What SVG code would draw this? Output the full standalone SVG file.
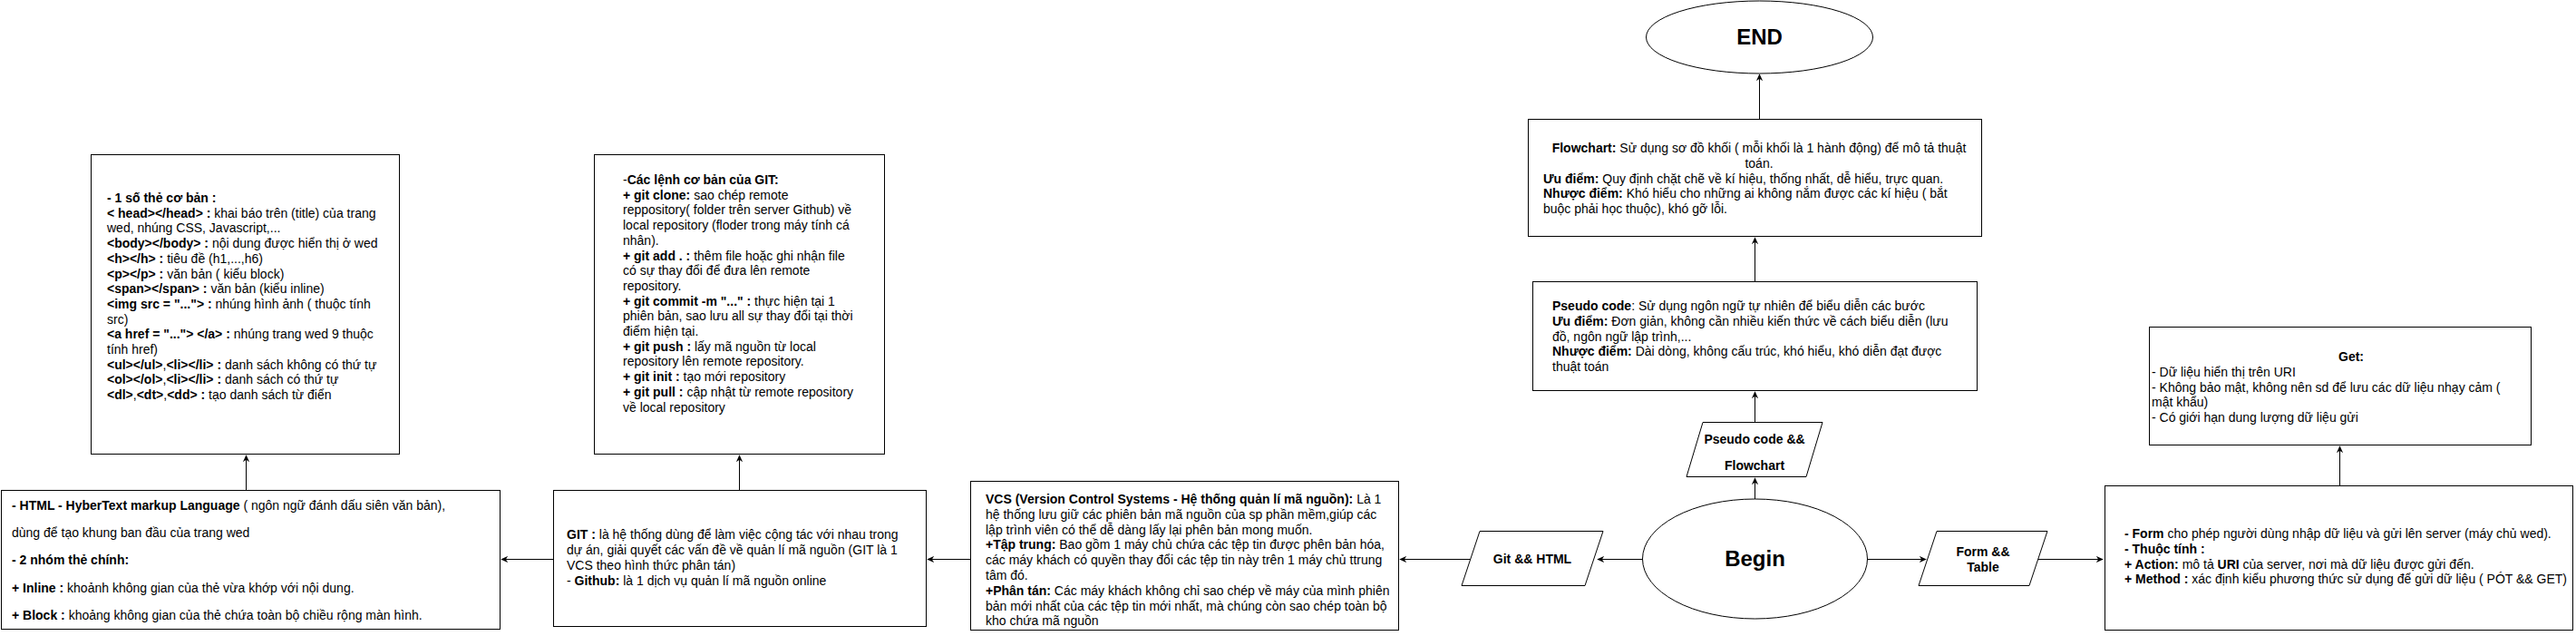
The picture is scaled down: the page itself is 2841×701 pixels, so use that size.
<svg xmlns="http://www.w3.org/2000/svg" width="2841" height="701" viewBox="0 0 2841 701">
<style>
.t{font-family:"Liberation Sans",Arial,sans-serif;font-size:14px;fill:#000}
.b{font-weight:bold}
.c{text-anchor:middle}
.big{font-family:"Liberation Sans",Arial,sans-serif;font-size:24px;font-weight:bold;text-anchor:middle;fill:#000}
.box{fill:#fff;stroke:#000;stroke-width:1}
.edge{stroke:#000;stroke-width:1;fill:none;marker-end:url(#arr)}
</style>
<defs>
<marker id="arr" viewBox="0 0 10 10" refX="9" refY="5" markerWidth="8" markerHeight="8" markerUnits="userSpaceOnUse" orient="auto">
<path d="M0,0.5 L10,5 L0,9.5 L3,5 z" fill="#000"/>
</marker>
</defs>
<rect x="0" y="0" width="2841" height="701" fill="#fff"/>

<g id="connectors">
<path class="edge" d="M1811,616.5 H1762"/>
<path class="edge" d="M1622,616.5 H1544"/>
<path class="edge" d="M1070,616.5 H1023"/>
<path class="edge" d="M625,616.5 H553"/>
<path class="edge" d="M815.5,540 V502"/>
<path class="edge" d="M271.5,540 V502"/>
<path class="edge" d="M1935.5,550 V527"/>
<path class="edge" d="M1935.5,478 V432"/>
<path class="edge" d="M1935.5,310 V262"/>
<path class="edge" d="M1940.5,140 V82"/>
<path class="edge" d="M2060,616.5 H2124"/>
<path class="edge" d="M2248,616.5 H2319"/>
<path class="edge" d="M2580.5,535 V492"/>
</g>

<g id="html-tags">
<rect class="box" x="100.5" y="170.5" width="340" height="330"/>
<text class="t" x="118" y="223"><tspan class="b">- 1 số thẻ cơ bản :</tspan></text>
<text class="t" x="118" y="239.7"><tspan class="b">&lt; head&gt;&lt;/head&gt; :</tspan> khai báo trên (title) của trang</text>
<text class="t" x="118" y="256.4">wed, nhúng CSS, Javascript,...</text>
<text class="t" x="118" y="273.1"><tspan class="b">&lt;body&gt;&lt;/body&gt; :</tspan> nội dung được hiển thị ở wed</text>
<text class="t" x="118" y="289.8"><tspan class="b">&lt;h&gt;&lt;/h&gt; :</tspan> tiêu đề (h1,...,h6)</text>
<text class="t" x="118" y="306.5"><tspan class="b">&lt;p&gt;&lt;/p&gt; :</tspan> văn bản ( kiểu block)</text>
<text class="t" x="118" y="323.2"><tspan class="b">&lt;span&gt;&lt;/span&gt; :</tspan> văn bản (kiểu inline)</text>
<text class="t" x="118" y="339.9"><tspan class="b">&lt;img src = "..."&gt; :</tspan> nhúng hình ảnh ( thuộc tính</text>
<text class="t" x="118" y="356.6">src)</text>
<text class="t" x="118" y="373.3"><tspan class="b">&lt;a href = "..."&gt; &lt;/a&gt; :</tspan> nhúng trang wed 9 thuộc</text>
<text class="t" x="118" y="390">tính href)</text>
<text class="t" x="118" y="406.7"><tspan class="b">&lt;ul&gt;&lt;/ul&gt;</tspan>,<tspan class="b">&lt;li&gt;&lt;/li&gt; :</tspan> danh sách không có thứ tự</text>
<text class="t" x="118" y="423.4"><tspan class="b">&lt;ol&gt;&lt;/ol&gt;</tspan>,<tspan class="b">&lt;li&gt;&lt;/li&gt; :</tspan> danh sách có thứ tự</text>
<text class="t" x="118" y="440.1"><tspan class="b">&lt;dl&gt;</tspan>,<tspan class="b">&lt;dt&gt;</tspan>,<tspan class="b">&lt;dd&gt; :</tspan> tạo danh sách từ điển</text>
</g>

<g id="git-commands">
<rect class="box" x="655.5" y="170.5" width="320" height="330"/>
<text class="t" x="687" y="203">-<tspan class="b">Các lệnh cơ bản của GIT:</tspan></text>
<text class="t" x="687" y="219.7"><tspan class="b">+ git clone:</tspan> sao chép remote</text>
<text class="t" x="687" y="236.4">reppository( folder trên server Github) về</text>
<text class="t" x="687" y="253.1">local repository (floder trong máy tính cá</text>
<text class="t" x="687" y="269.8">nhân).</text>
<text class="t" x="687" y="286.5"><tspan class="b">+ git add . :</tspan> thêm file hoặc ghi nhận file</text>
<text class="t" x="687" y="303.2">có sự thay đổi để đưa lên remote</text>
<text class="t" x="687" y="319.9">repository.</text>
<text class="t" x="687" y="336.6"><tspan class="b">+ git commit -m "..." :</tspan> thực hiện tại 1</text>
<text class="t" x="687" y="353.3">phiên bản, sao lưu all sự thay đổi tại thời</text>
<text class="t" x="687" y="370">điểm hiện tại.</text>
<text class="t" x="687" y="386.7"><tspan class="b">+ git push :</tspan> lấy mã nguồn từ local</text>
<text class="t" x="687" y="403.4">repository lên remote repository.</text>
<text class="t" x="687" y="420.1"><tspan class="b">+ git init :</tspan> tạo mới repository</text>
<text class="t" x="687" y="436.8"><tspan class="b">+ git pull :</tspan> cập nhật từ remote repository</text>
<text class="t" x="687" y="453.5">về local repository</text>
</g>

<g id="html-desc">
<rect class="box" x="1.5" y="540.5" width="550" height="153"/>
<text class="t" x="13" y="562"><tspan class="b">- HTML - HyberText markup Language</tspan> ( ngôn ngữ đánh dấu siên văn bản),</text>
<text class="t" x="13" y="592.2">dùng để tạo khung ban đầu của trang wed</text>
<text class="t" x="13" y="622.4"><tspan class="b">- 2 nhóm thẻ chính:</tspan></text>
<text class="t" x="13" y="652.6"><tspan class="b">+ Inline :</tspan> khoảnh không gian của thẻ vừa khớp với nội dung.</text>
<text class="t" x="13" y="682.8"><tspan class="b">+ Block :</tspan> khoảng không gian của thẻ chứa toàn bộ chiều rộng màn hình.</text>
</g>

<g id="git">
<rect class="box" x="610.5" y="540.5" width="411" height="150"/>
<text class="t" x="625" y="594"><tspan class="b">GIT :</tspan> là hệ thống dùng để làm việc cộng tác với nhau trong</text>
<text class="t" x="625" y="611">dự án, giải quyết các vấn đề về quản lí mã nguồn (GIT là 1</text>
<text class="t" x="625" y="628">VCS theo hình thức phân tán)</text>
<text class="t" x="625" y="645">- <tspan class="b">Github:</tspan> là 1 dịch vụ quản lí mã nguồn online</text>
</g>

<g id="vcs">
<rect class="box" x="1070.5" y="530.5" width="472" height="164"/>
<text class="t" x="1087" y="555"><tspan class="b">VCS (Version Control Systems - Hệ thống quản lí mã nguồn):</tspan> Là 1</text>
<text class="t" x="1087" y="571.8">hệ thống lưu giữ các phiên bản mã nguồn của sp phần mềm,giúp các</text>
<text class="t" x="1087" y="588.6">lập trình viên có thể dễ dàng lấy lại phên bản mong muốn.</text>
<text class="t" x="1087" y="605.4"><tspan class="b">+Tập trung:</tspan> Bao gồm 1 máy chủ chứa các tệp tin được phên bản hóa,</text>
<text class="t" x="1087" y="622.2">các máy khách có quyền thay đổi các tệp tin này trên 1 máy chủ ttrung</text>
<text class="t" x="1087" y="639">tâm đó.</text>
<text class="t" x="1087" y="655.8"><tspan class="b">+Phân tán:</tspan> Các máy khách không chỉ sao chép về máy của mình phiên</text>
<text class="t" x="1087" y="672.6">bản mới nhất của các tệp tin mới nhất, mà chúng còn sao chép toàn bộ</text>
<text class="t" x="1087" y="689.4">kho chứa mã nguồn</text>
</g>

<g id="git-html">
<polygon class="box" points="1612,645.5 1632,585.5 1768,585.5 1748,645.5"/>
<text class="t b c" x="1690" y="621">Git &amp;&amp; HTML</text>
</g>

<g id="begin">
<ellipse class="box" cx="1935.5" cy="616" rx="124" ry="66"/>
<text class="big" x="1935.5" y="624">Begin</text>
</g>

<g id="pseudo-para">
<polygon class="box" points="1860,525.5 1878,465.5 2010,465.5 1992,525.5"/>
<text class="t b c" x="1935" y="489">Pseudo code &amp;&amp;</text>
<text class="t b c" x="1935" y="518">Flowchart</text>
</g>

<g id="pseudo">
<rect class="box" x="1690.5" y="310.5" width="490" height="120"/>
<text class="t" x="1712" y="342"><tspan class="b">Pseudo code</tspan>: Sử dụng ngôn ngữ tự nhiên để biểu diễn các bước</text>
<text class="t" x="1712" y="358.8"><tspan class="b">Ưu điểm:</tspan> Đơn giản, không cần nhiều kiến thức về cách biểu diễn (lưu</text>
<text class="t" x="1712" y="375.6">đồ, ngôn ngữ lập trình,...</text>
<text class="t" x="1712" y="392.4"><tspan class="b">Nhược điểm:</tspan> Dài dòng, không cấu trúc, khó hiểu, khó diễn đạt được</text>
<text class="t" x="1712" y="409.2">thuật toán</text>
</g>

<g id="flowchart">
<rect class="box" x="1685.5" y="131.5" width="500" height="129"/>
<text class="t c" x="1940" y="168"><tspan class="b">Flowchart:</tspan> Sử dụng sơ đồ khối ( mỗi khối là 1 hành động) để mô tả thuật</text>
<text class="t c" x="1940" y="184.8">toán.</text>
<text class="t" x="1702" y="201.6"><tspan class="b">Ưu điểm:</tspan> Quy định chặt chẽ về kí hiệu, thống nhất, dễ hiểu, trực quan.</text>
<text class="t" x="1702" y="218.4"><tspan class="b">Nhược điểm:</tspan> Khó hiểu cho những ai không nắm được các kí hiệu ( bắt</text>
<text class="t" x="1702" y="235.2">buộc phải học thuộc), khó gỡ lỗi.</text>
</g>

<g id="end">
<ellipse class="box" cx="1940.5" cy="41" rx="125" ry="40"/>
<text class="big" x="1940.5" y="49">END</text>
</g>

<g id="form-table">
<polygon class="box" points="2116,645.5 2136,585.5 2258,585.5 2238,645.5"/>
<text class="t b c" x="2187" y="613">Form &amp;&amp;</text>
<text class="t b c" x="2187" y="630">Table</text>
</g>

<g id="form">
<rect class="box" x="2321.5" y="535.5" width="516" height="159"/>
<text class="t" x="2343" y="593"><tspan class="b">- Form</tspan> cho phép người dùng nhập dữ liệu và gửi lên server (máy chủ wed).</text>
<text class="t" x="2343" y="609.8"><tspan class="b">- Thuộc tính :</tspan></text>
<text class="t" x="2343" y="626.6"><tspan class="b">+ Action:</tspan> mô tả <tspan class="b">URI</tspan> của server, nơi mà dữ liệu được gửi đến.</text>
<text class="t" x="2343" y="643.4"><tspan class="b">+ Method :</tspan> xác định kiểu phương thức sử dụng để gửi dữ liệu ( PÓT &amp;&amp; GET)</text>
</g>

<g id="get">
<rect class="box" x="2370.5" y="360.5" width="421" height="130"/>
<text class="t b c" x="2593" y="398">Get:</text>
<text class="t" x="2373" y="414.8">- Dữ liệu hiển thị trên URI</text>
<text class="t" x="2373" y="431.6">- Không bảo mật, không nên sd để lưu các dữ liệu nhạy cảm (</text>
<text class="t" x="2373" y="448.4">mật khẩu)</text>
<text class="t" x="2373" y="465.2">- Có giới hạn dung lượng dữ liệu gửi</text>
</g>
</svg>
